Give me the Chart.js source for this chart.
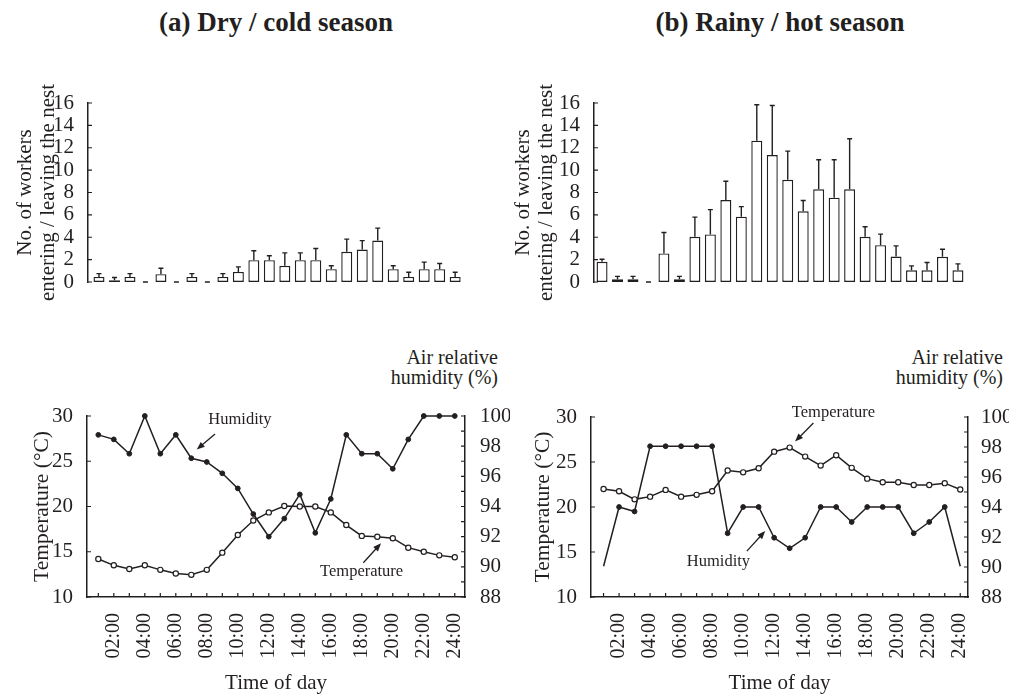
<!DOCTYPE html>
<html>
<head>
<meta charset="utf-8">
<script src="https://cdn.jsdelivr.net/npm/chart.js@4.4.1/dist/chart.umd.min.js"></script>
<style>
  html, body { margin: 0; padding: 0; background: #fff; }
  body { width: 1009px; height: 698px; position: relative; overflow: hidden;
         font-family: 'Liberation Serif', 'Times New Roman', serif; color: #231f20; }
  .box { position: absolute; }
  .head { position: absolute; top: 7px; width: 400px; text-align: center; font-weight: bold; font-size: 27px; }
  .rh { position: absolute; top: 347px; text-align: right; font-size: 20px; line-height: 20px; }
</style>
</head>
<body>
<div class="head" style="left:76px">(a) Dry / cold season</div>
<div class="head" style="left:580px">(b) Rainy / hot season</div>
<div class="rh" style="right:511px">Air relative<br>humidity (%)</div>
<div class="rh" style="right:6px">Air relative<br>humidity (%)</div>

<div class="box" style="left:0;top:60px;width:500px;height:260px"><canvas id="dryBars"></canvas></div>
<div class="box" style="left:500px;top:60px;width:509px;height:260px"><canvas id="rainyBars"></canvas></div>
<div class="box" style="left:0;top:330px;width:510px;height:368px"><canvas id="dryLines"></canvas></div>
<div class="box" style="left:500px;top:330px;width:509px;height:368px"><canvas id="rainyLines"></canvas></div>

<script>
// hourly categories
const hours = ['01:00','02:00','03:00','04:00','05:00','06:00','07:00','08:00','09:00','10:00','11:00','12:00',
               '13:00','14:00','15:00','16:00','17:00','18:00','19:00','20:00','21:00','22:00','23:00','24:00'];

// workers entering / leaving the nest (mean and error)
const dryWorkers   = [0.45,0.15,0.45,0,0.7,0,0.45,0,0.45,0.9,1.95,1.95,1.45,1.95,1.95,1.15,2.7,2.9,3.7,1.15,0.45,1.15,1.15,0.45];
const dryErr       = [0.3,0.25,0.3,0,0.53,0,0.3,0,0.3,0.45,0.85,0.4,1.15,0.65,1.05,0.3,1.13,0.8,1.12,0.3,0.42,0.63,0.51,0.42];
const rainyWorkers = [1.8,0.24,0.24,0,2.55,0.24,4.04,4.25,7.33,5.84,12.63,11.35,9.13,6.32,8.29,7.54,8.29,4.04,3.29,2.28,1.05,1.05,2.25,1.05];
const rainyErr     = [0.23,0.26,0.26,0,1.88,0.26,1.76,2.22,1.67,0.9,3.21,4.43,2.57,0.96,2.64,3.39,4.52,0.9,0.99,0.95,0.39,0.69,0.68,0.57];

// temperature (°C) and air relative humidity (%)
const dryTemp  = [14.2,13.5,13.1,13.5,13.0,12.6,12.45,13.0,14.9,16.85,18.45,19.35,20.05,20.0,20.0,19.35,17.95,16.75,16.65,16.5,15.45,15.0,14.6,14.4];
const dryHum   = [98.75,98.45,97.5,100,97.5,98.75,97.2,96.95,96.2,95.2,93.5,92.0,93.2,94.8,92.25,94.5,98.75,97.5,97.5,96.5,98.45,100,100,100];
const rainyTemp = [22.0,21.75,20.85,21.15,21.9,21.15,21.35,21.75,24.05,23.85,24.3,26.15,26.6,25.6,24.6,25.75,24.35,23.15,22.75,22.75,22.45,22.45,22.65,21.95];
const rainyHum  = [90.05,94.0,93.7,98.05,98.05,98.05,98.05,98.05,92.25,94.0,94.0,91.95,91.25,91.95,94.0,94.0,93.0,94.0,94.0,94.0,92.25,93.0,94.0,90.05];

const INK = '#231f20';
const SERIF = "'Liberation Serif', 'Times New Roman', serif";
Chart.defaults.font.family = SERIF;
Chart.defaults.color = INK;
Chart.defaults.animation = false;

// small tick marks pointing into the plot
const inTicks = {
  id: 'inTicks',
  afterDraw(chart) {
    const ctx = chart.ctx, a = chart.chartArea, L = 4;
    ctx.save();
    ctx.strokeStyle = INK;
    ctx.lineWidth = 1.2;
    ctx.beginPath();
    Object.values(chart.scales).forEach(s => {
      if (!s.options.display) return;
      s.ticks.forEach(t => {
        const p = s.getPixelForValue(t.value);
        if (s.isHorizontal()) { ctx.moveTo(p, a.bottom); ctx.lineTo(p, a.bottom - L); }
        else if (s.position === 'left') { ctx.moveTo(a.left, p); ctx.lineTo(a.left + L, p); }
        else { ctx.moveTo(a.right, p); ctx.lineTo(a.right - L, p); }
      });
    });
    ctx.stroke();
    ctx.restore();
  }
};

// error bars above the bars, a short dash where the mean is zero
const errorBars = {
  id: 'errorBars',
  afterDatasetsDraw(chart, args, opts) {
    if (!opts.err) return;
    const ctx = chart.ctx, y = chart.scales.y;
    const ds = chart.data.datasets[0];
    const y0 = y.getPixelForValue(0);
    ctx.save();
    ctx.strokeStyle = INK;
    ctx.lineWidth = 1.4;
    ctx.beginPath();
    chart.getDatasetMeta(0).data.forEach((bar, i) => {
      const v = ds.data[i].y;
      if (v === 0) {
        ctx.moveTo(bar.x - 2.5, y0); ctx.lineTo(bar.x + 2.5, y0);
        return;
      }
      const top = y.getPixelForValue(v + opts.err[i]);
      ctx.moveTo(bar.x, bar.y); ctx.lineTo(bar.x, top);
      ctx.moveTo(bar.x - 2.5, top); ctx.lineTo(bar.x + 2.5, top);
    });
    ctx.stroke();
    ctx.restore();
  }
};

// text labels with arrows, placed in data units (x = hour, y = temperature)
const notes = {
  id: 'notes',
  afterDraw(chart, args, opts) {
    const ctx = chart.ctx, x = chart.scales.x, y = chart.scales.y;
    ctx.save();
    ctx.fillStyle = INK;
    ctx.strokeStyle = INK;
    ctx.lineWidth = 1.3;
    ctx.font = '16.5px ' + SERIF;
    ctx.textAlign = 'center';
    ctx.textBaseline = 'middle';
    (opts.items || []).forEach(n => {
      ctx.fillText(n.text, x.getPixelForValue(n.at[0]), y.getPixelForValue(n.at[1]));
      const x0 = x.getPixelForValue(n.from[0]), y0 = y.getPixelForValue(n.from[1]);
      const x1 = x.getPixelForValue(n.to[0]), y1 = y.getPixelForValue(n.to[1]);
      const ang = Math.atan2(y1 - y0, x1 - x0);
      ctx.beginPath();
      ctx.moveTo(x0, y0);
      ctx.lineTo(x1 - 5 * Math.cos(ang), y1 - 5 * Math.sin(ang));
      ctx.stroke();
      ctx.beginPath();
      ctx.moveTo(x1, y1);
      ctx.lineTo(x1 - 8 * Math.cos(ang) + 3.2 * Math.sin(ang), y1 - 8 * Math.sin(ang) - 3.2 * Math.cos(ang));
      ctx.lineTo(x1 - 8 * Math.cos(ang) - 3.2 * Math.sin(ang), y1 - 8 * Math.sin(ang) + 3.2 * Math.cos(ang));
      ctx.closePath();
      ctx.fill();
    });
    ctx.restore();
  }
};

function barChart(id, mean, err, c) {
  return new Chart(document.getElementById(id), {
    type: 'bar',
    data: {
      datasets: [{
        data: mean.map((v, i) => ({ x: i + 1, y: v })),
        backgroundColor: '#fff',
        borderColor: INK,
        borderWidth: 1.4,
        borderSkipped: false,
        categoryPercentage: 1,
        barPercentage: 0.71
      }]
    },
    options: {
      responsive: true,
      maintainAspectRatio: false,
      layout: { padding: { top: 43, bottom: 38, left: 0, right: c.padR } },
      plugins: { legend: { display: false }, tooltip: { enabled: false }, errorBars: { err: err } },
      scales: {
        x: { type: 'linear', min: c.xmin, max: c.xmax, offset: false, display: false },
        y: {
          min: 0, max: 16,
          ticks: { stepSize: 2, autoSkip: false, font: { size: 21 }, padding: 6 },
          grid: { display: false },
          border: { color: INK, width: 1.5 },
          title: {
            display: true,
            text: ['No. of workers', 'entering / leaving the nest'],
            font: { size: 21, lineHeight: 1.1 },
            padding: { top: c.tp, bottom: 0 }
          },
          afterFit: s => { s.width = c.yw; }
        }
      }
    },
    plugins: [errorBars, inTicks]
  });
}

function lineChart(id, temp, hum, c) {
  return new Chart(document.getElementById(id), {
    type: 'line',
    data: {
      datasets: [{
        data: temp.map((v, i) => ({ x: i + 1, y: v })),
        yAxisID: 'y',
        borderColor: INK, borderWidth: 1.5, tension: 0, clip: false,
        pointRadius: 2.6, pointBorderWidth: 1.2,
        pointBackgroundColor: '#fff', pointBorderColor: INK
      }, {
        data: hum.map((v, i) => ({ x: i + 1, y: v })),
        yAxisID: 'y1',
        borderColor: INK, borderWidth: 1.5, tension: 0, clip: false,
        pointRadius: c.humRadius, pointBorderWidth: 1,
        pointBackgroundColor: INK, pointBorderColor: INK
      }]
    },
    options: {
      responsive: true,
      maintainAspectRatio: false,
      layout: { padding: { top: c.padT, bottom: 0, left: 0, right: 0 } },
      plugins: { legend: { display: false }, tooltip: { enabled: false }, notes: { items: c.notes } },
      scales: {
        x: {
          type: 'linear', min: c.xmin, max: c.xmax,
          afterBuildTicks: s => { s.ticks = hours.map((h, i) => ({ value: i + 1 })); },
          ticks: {
            autoSkip: false, minRotation: 90, maxRotation: 90, padding: 8, font: { size: 20 },
            callback: v => (v % 2 === 0 ? hours[v - 1] : '')
          },
          grid: { display: false },
          border: { color: INK, width: 1.5 },
          title: { display: true, text: 'Time of day', font: { size: 21 }, padding: { top: 0, bottom: 2 } },
          afterFit: s => { s.height = 101; }
        },
        y: {
          position: 'left', min: 10, max: 30,
          ticks: { stepSize: 5, autoSkip: false, font: { size: 21 }, padding: 6 },
          grid: { display: false },
          border: { color: INK, width: 1.5 },
          title: {
            display: true, text: 'Temperature (°C)',
            font: { size: 21.5, lineHeight: 1.1 }, padding: { top: c.tp, bottom: 0 }
          },
          afterFit: s => { s.width = c.yw; }
        },
        y1: {
          position: 'right', min: 88, max: 100,
          ticks: { stepSize: 1, autoSkip: false, font: { size: 21 }, padding: c.rp, callback: v => (v % 2 === 0 ? v : '') },
          grid: { display: false },
          border: { color: INK, width: 1.5 },
          afterFit: s => { s.width = c.y1w; }
        }
      }
    },
    plugins: [notes, inTicks]
  });
}

barChart('dryBars', dryWorkers, dryErr, { xmin: 0.29, xmax: 24.7, yw: 88, padR: 34, tp: 14 });
barChart('rainyBars', rainyWorkers, rainyErr, { xmin: 0.48, xmax: 24.52, yw: 94, padR: 43, tp: 11.5 });

lineChart('dryLines', dryTemp, dryHum, {
  xmin: 0.27, xmax: 24.66, yw: 87, y1w: 45, padT: 86, tp: 30.5, rp: 7,
  humRadius: 2.4,
  notes: [
    { text: 'Humidity', at: [10.14, 29.56], from: [8.53, 28.0], to: [7.35, 26.3] },
    { text: 'Temperature', at: [17.99, 12.8], from: [18.1, 13.79], to: [19.24, 15.93] }
  ]
});
lineChart('rainyLines', rainyTemp, rainyHum, {
  xmin: 0.19, xmax: 24.5, yw: 91, y1w: 41, padT: 87, tp: 31.5, rp: 5,
  humRadius: rainyHum.map((v, i) => (i === 0 || i === rainyHum.length - 1 ? 0 : 2.4)),
  notes: [
    { text: 'Temperature', at: [15.82, 30.51], from: [14.53, 29.33], to: [13.35, 27.28] },
    { text: 'Humidity', at: [8.41, 13.9], from: [10.24, 15.1], to: [11.42, 17.32] }
  ]
});
</script>
</body>
</html>
